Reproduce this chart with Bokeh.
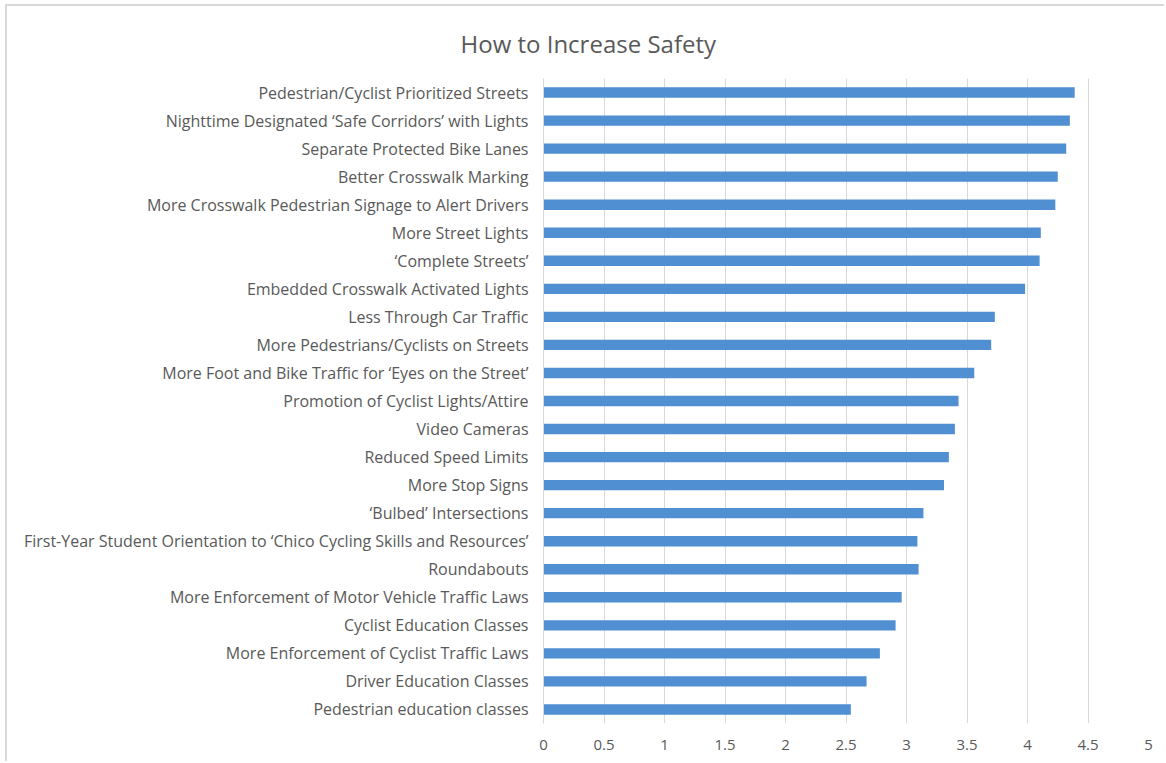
from bokeh.plotting import figure
from bokeh.models import FactorRange, Range1d, FixedTicker, Title, ColumnDataSource
from bokeh.embed import file_html
from bokeh.resources import INLINE

categories = [
    "Pedestrian/Cyclist Prioritized Streets",
    "Nighttime Designated \u2018Safe Corridors\u2019 with Lights",
    "Separate Protected Bike Lanes",
    "Better Crosswalk Marking",
    "More Crosswalk Pedestrian Signage to Alert Drivers",
    "More Street Lights",
    "\u2018Complete Streets\u2019",
    "Embedded Crosswalk Activated Lights",
    "Less Through Car Traffic",
    "More Pedestrians/Cyclists on Streets",
    "More Foot and Bike Traffic for \u2018Eyes on the Street\u2019",
    "Promotion of Cyclist Lights/Attire",
    "Video Cameras",
    "Reduced Speed Limits",
    "More Stop Signs",
    "\u2018Bulbed\u2019 Intersections",
    "First-Year Student Orientation to \u2018Chico Cycling Skills and Resources\u2019",
    "Roundabouts",
    "More Enforcement of Motor Vehicle Traffic Laws",
    "Cyclist Education Classes",
    "More Enforcement of Cyclist Traffic Laws",
    "Driver Education Classes",
    "Pedestrian education classes",
]
values = [4.39, 4.35, 4.32, 4.25, 4.23, 4.11, 4.10, 3.98, 3.73, 3.70, 3.56, 3.43,
          3.40, 3.35, 3.31, 3.14, 3.09, 3.10, 2.96, 2.91, 2.78, 2.67, 2.54]
tick_values = [0, 0.5, 1, 1.5, 2, 2.5, 3, 3.5, 4, 4.5, 5]
tick_labels = ["0", "0.5", "1", "1.5", "2", "2.5", "3", "3.5", "4", "4.5", "5"]
title_text = "How to Increase Safety"

FONT = "Open Sans"
GRAY = "#595959"

src = ColumnDataSource(dict(cat=categories, val=values))

p = figure(width=1159, height=757, output_backend="svg", toolbar_location=None,
           y_range=FactorRange(factors=list(reversed(categories))),
           x_range=Range1d(0, 5))
p.min_border_left = 536
p.min_border_right = 18
p.min_border_top = 72
p.min_border_bottom = 40
p.outline_line_color = None
p.background_fill_color = "white"
p.border_fill_color = "white"

p.hbar(y="cat", right="val", left=0, height=0.37, source=src,
       fill_color="#4f8fd2", line_color=None)

p.xaxis.ticker = FixedTicker(ticks=tick_values)
p.xaxis.major_label_overrides = {t: l for t, l in zip(tick_values, tick_labels)}
p.xaxis.axis_line_color = None
p.xaxis.major_tick_line_color = None
p.xaxis.minor_tick_line_color = None
p.xaxis.major_label_text_font = FONT
p.xaxis.major_label_text_font_size = "15px"
p.xaxis.major_label_text_color = GRAY
p.xaxis.major_label_standoff = 10

p.yaxis.axis_line_color = "#d9d9d9"
p.yaxis.major_tick_line_color = None
p.yaxis.minor_tick_line_color = None
p.yaxis.major_label_text_font = FONT
p.yaxis.major_label_text_font_size = "16px"
p.yaxis.major_label_text_color = GRAY
p.yaxis.major_label_standoff = 9

p.xgrid.grid_line_color = "#d9d9d9"
p.ygrid.grid_line_color = None

p.add_layout(Title(text=title_text, align="left", offset=-83, standoff=37,
                   text_font=FONT, text_font_size="24px", text_color=GRAY,
                   text_font_style="normal"), "above")

p.styles = {"border-top": "2px solid #d9d9d9", "border-left": "2px solid #d9d9d9",
            "margin-left": "5px", "margin-top": "4px"}

open("out.html", "w").write(file_html(p, INLINE))
